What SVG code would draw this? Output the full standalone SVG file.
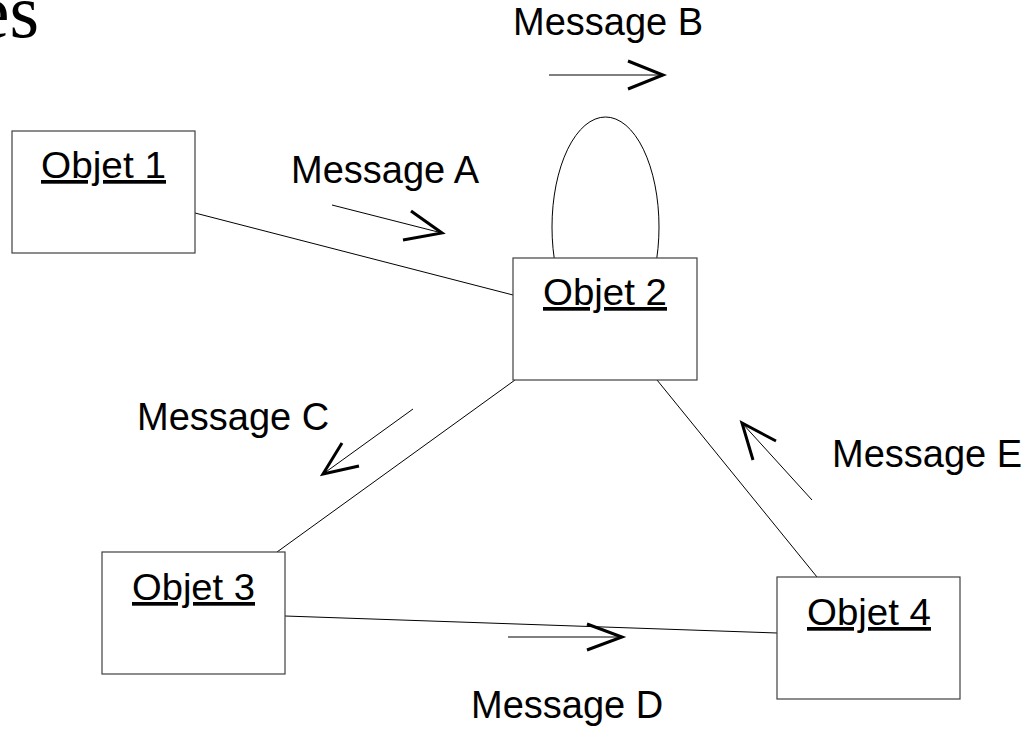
<svg xmlns="http://www.w3.org/2000/svg" width="1025" height="733" viewBox="0 0 1025 733">
  <style>
    .box { fill: #ffffff; stroke: #404040; stroke-width: 1.2; }
    .link { fill: none; stroke: #000000; stroke-width: 1; }
    .shaft { fill: none; stroke: #000000; stroke-width: 1; }
    .head { fill: none; stroke: #000000; stroke-width: 3; stroke-linecap: butt; stroke-linejoin: miter; }
    .name { font-family: "Liberation Sans", Arial, sans-serif; font-size: 37px; fill: #000000; text-decoration: underline; }
    .msg { font-family: "Liberation Sans", Arial, sans-serif; font-size: 38px; fill: #000000; }
    .title { font-family: "Liberation Serif", "Times New Roman", serif; font-size: 76px; fill: #000000; }
  </style>

  <!-- title fragment at the top-left edge -->
  <text class="title" x="39" y="37" text-anchor="end">es</text>

  <!-- links between objects -->
  <g id="connectors">
    <line class="link" x1="195" y1="213" x2="513" y2="295"/>
    <line class="link" x1="515" y1="380" x2="277" y2="552"/>
    <line class="link" x1="657" y1="380" x2="817" y2="577"/>
    <line class="link" x1="285" y1="616" x2="777" y2="633"/>
    <!-- self link on Objet 2 -->
    <ellipse class="link" cx="605.5" cy="227" rx="53.5" ry="110"/>
  </g>

  <g id="objet1">
    <rect class="box" x="12" y="131" width="183" height="122"/>
    <text class="name" x="41" y="178" textLength="125" lengthAdjust="spacingAndGlyphs">Objet 1</text>
  </g>

  <g id="objet2">
    <rect class="box" x="513" y="258" width="184" height="122"/>
    <text class="name" x="543" y="305" textLength="124" lengthAdjust="spacingAndGlyphs">Objet 2</text>
  </g>

  <g id="objet3">
    <rect class="box" x="102" y="552" width="183" height="122"/>
    <text class="name" x="132" y="600" textLength="123" lengthAdjust="spacingAndGlyphs">Objet 3</text>
  </g>

  <g id="objet4">
    <rect class="box" x="777" y="577" width="183" height="122"/>
    <text class="name" x="807" y="625" textLength="124" lengthAdjust="spacingAndGlyphs">Objet 4</text>
  </g>

  <!-- message arrows and labels -->
  <g id="messageA">
    <line class="shaft" x1="332" y1="205" x2="442" y2="233"/>
    <polyline class="head" points="411,211 442,233 403,240"/>
    <text class="msg" x="291" y="183">Message A</text>
  </g>

  <g id="messageB">
    <line class="shaft" x1="549" y1="75" x2="663" y2="75"/>
    <polyline class="head" points="628,61 663,75 628,89"/>
    <text class="msg" x="513" y="35">Message B</text>
  </g>

  <g id="messageC">
    <line class="shaft" x1="413" y1="409" x2="323" y2="474"/>
    <polyline class="head" points="342,443 323,474 359,466"/>
    <text class="msg" x="137" y="430">Message C</text>
  </g>

  <g id="messageD">
    <line class="shaft" x1="508" y1="637" x2="622" y2="637"/>
    <polyline class="head" points="587,624 622,637 587,650"/>
    <text class="msg" x="471" y="718">Message D</text>
  </g>

  <g id="messageE">
    <line class="shaft" x1="812" y1="500" x2="742" y2="423"/>
    <polyline class="head" points="753,460 742,423 776,441"/>
    <text class="msg" x="832" y="467">Message E</text>
  </g>
</svg>
